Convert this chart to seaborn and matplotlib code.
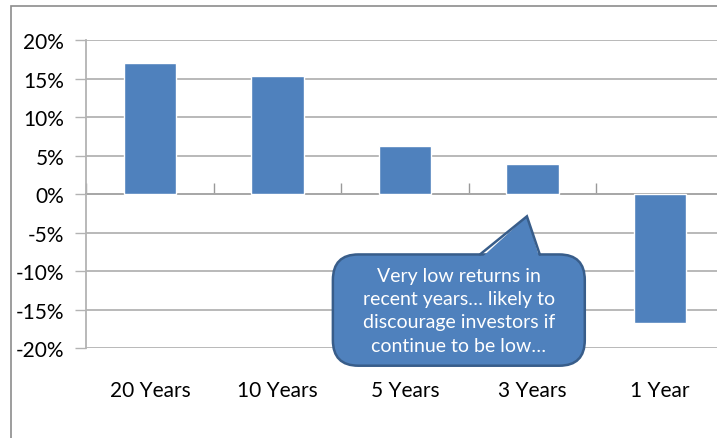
import matplotlib
matplotlib.use("Agg")
import matplotlib.pyplot as plt
import pandas as pd
import seaborn as sns
from matplotlib.patches import FancyBboxPatch, Polygon, Rectangle
from matplotlib.ticker import FixedLocator, FuncFormatter

# data
periods = ["20 Years", "10 Years", "5 Years", "3 Years", "1 Year"]
returns = [17.0, 15.3, 6.2, 3.9, -16.7]
y_ticks = [-20, -15, -10, -5, 0, 5, 10, 15, 20]
callout_text = "Very low returns in\nrecent years\u2026 likely to\ndiscourage investors if\ncontinue to be low\u2026"

bar_color = "#4f81bd"
edge_color = "#385d8a"
grid_color = "#b3b3b3"

sns.set_theme(style="white")
plt.rcParams["font.family"] = ["Lato", "DejaVu Sans"]

df = pd.DataFrame({"period": periods, "ret": returns})

fig = plt.figure(figsize=(7.17, 4.39), dpi=100)
ax = fig.add_axes([0.1204, 0.205, 0.889, 0.7016])

sns.barplot(data=df, x="period", y="ret", color=bar_color, saturation=1,
            width=0.41, ax=ax, zorder=3)

ax.set_xlim(-0.5, len(periods) - 0.5)
ax.set_ylim(y_ticks[0], y_ticks[-1])
ax.set_yticks(y_ticks)
ax.yaxis.set_major_formatter(FuncFormatter(lambda v, p: f"{v:.0f}%"))
ax.yaxis.grid(True, color=grid_color, linewidth=1.3, zorder=0)
ax.set_axisbelow(True)
ax.tick_params(axis="y", direction="out", length=8, width=1, color=grid_color,
               labelsize=15, pad=8, left=True, labelcolor="black")
ax.tick_params(axis="x", length=0, labelsize=15, pad=23, labelcolor="black")
ax.set_xlabel("")
ax.set_ylabel("")
for side in ["top", "right", "bottom"]:
    ax.spines[side].set_visible(False)
ax.spines["left"].set_color(grid_color)
ax.spines["left"].set_linewidth(1.3)

# horizontal axis drawn through zero with ticks between categories
sec = ax.secondary_xaxis(0.5)
sec.xaxis.set_major_locator(FixedLocator([i - 0.5 for i in range(len(periods) + 1)]))
sec.set_xticklabels([])
sec.tick_params(axis="x", direction="out", length=8, width=1, color="#999999")
sec.spines["bottom"].set_color("#999999")
sec.spines["bottom"].set_linewidth(1.3)

# speech bubble callout
px_x = 127.5   # px per category
px_y = 7.68    # px per percent
bx0, by0, bw, bh = 1.434, -22.3, 1.976, 14.45
box = FancyBboxPatch((bx0, by0), bw, bh,
                     boxstyle="round,pad=0,rounding_size=0.2",
                     mutation_aspect=px_x / px_y,
                     fc=bar_color, ec=edge_color, lw=1.8, zorder=5, clip_on=False)
ax.add_patch(box)
tip = (2.956, -2.9)
base_l = (2.588, by0 + bh)
base_r = (3.057, by0 + bh)
ax.add_patch(Polygon([(base_l[0], base_l[1] - 0.6), tip, (base_r[0], base_r[1] - 0.6)],
                     closed=True, fc=bar_color, ec="none", zorder=6))
ax.plot([base_l[0], tip[0], base_r[0]], [base_l[1], tip[1], base_r[1]],
        color=edge_color, lw=1.8, zorder=6, solid_joinstyle="miter")
ax.text(bx0 + bw / 2, by0 + bh / 2, callout_text, ha="center", va="center",
        color="white", fontsize=14, linespacing=1.45, zorder=7)

# outer chart frame (partly cropped in the reference)
fig.patches.append(Rectangle((11 / 717, -0.1), 1.2, 1 - 7 / 439 + 0.1,
                             transform=fig.transFigure, fill=False,
                             ec="#8c8c8c", lw=1.2))

fig.savefig("out.png", dpi=100)
